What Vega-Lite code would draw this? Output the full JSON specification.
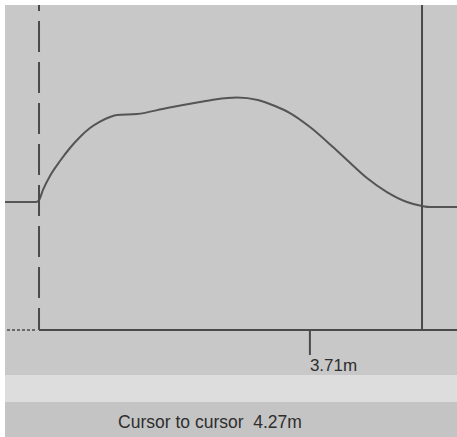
{
  "$schema": "https://vega.github.io/schema/vega-lite/v6.json",
  "width": 457,
  "height": 437,
  "autosize": {"type": "none"},
  "padding": 0,
  "background": "#ffffff",
  "config": {"view": {"stroke": null}},
  "datasets": {
    "panels": [
      {"region": "plot", "x0": 0.311, "x1": 5.35, "y0": -0.502, "y1": 3.623},
      {"region": "band", "x0": 0.311, "x1": 5.35, "y0": -0.803, "y1": -0.502},
      {"region": "status", "x0": 0.311, "x1": 5.35, "y0": -1.193, "y1": -0.803}
    ],
    "profile": [
      {"m": 0.311, "h": 1.427}, {"m": 0.656, "h": 1.427}, {"m": 0.69, "h": 1.449},
      {"m": 0.734, "h": 1.561}, {"m": 0.812, "h": 1.717}, {"m": 0.924, "h": 1.884},
      {"m": 1.035, "h": 2.029}, {"m": 1.147, "h": 2.152}, {"m": 1.258, "h": 2.252},
      {"m": 1.37, "h": 2.324}, {"m": 1.481, "h": 2.375}, {"m": 1.559, "h": 2.397},
      {"m": 1.782, "h": 2.408}, {"m": 2.117, "h": 2.475}, {"m": 2.485, "h": 2.542},
      {"m": 2.652, "h": 2.57}, {"m": 2.897, "h": 2.592}, {"m": 3.131, "h": 2.564},
      {"m": 3.321, "h": 2.497}, {"m": 3.488, "h": 2.419}, {"m": 3.711, "h": 2.263},
      {"m": 3.967, "h": 2.04}, {"m": 4.124, "h": 1.895}, {"m": 4.346, "h": 1.695},
      {"m": 4.569, "h": 1.538}, {"m": 4.792, "h": 1.427}, {"m": 4.96, "h": 1.382},
      {"m": 5.049, "h": 1.371}, {"m": 5.35, "h": 1.371}
    ],
    "cursors": [
      {"cursor": "A", "m": 0.69, "top": 3.623, "bottom": 0},
      {"cursor": "B", "m": 4.96, "top": 3.623, "bottom": 0}
    ]
  },
  "layer": [
    {
      "data": {"name": "panels"},
      "mark": {"type": "rect"},
      "encoding": {
        "x": {"field": "x0", "type": "quantitative", "axis": null, "scale": {"domain": [0.255, 5.35], "nice": false, "zero": false}},
        "x2": {"field": "x1"},
        "y": {"field": "y0", "type": "quantitative", "axis": null, "scale": {"domain": [-1.193, 3.679], "nice": false, "zero": false}},
        "y2": {"field": "y1"},
        "color": {"field": "region", "type": "nominal", "legend": null, "scale": {"domain": ["plot", "band", "status"], "range": ["#c8c8c8", "#dddddd", "#c4c4c4"]}}
      }
    },
    {
      "data": {"name": "profile"},
      "mark": {"type": "line", "interpolate": "monotone", "color": "#555555", "strokeWidth": 2},
      "encoding": {
        "x": {"field": "m", "type": "quantitative"},
        "y": {"field": "h", "type": "quantitative"}
      }
    },
    {
      "data": {"values": [{"m0": 0.69, "m1": 5.35, "h": 0}]},
      "mark": {"type": "rule", "color": "#4a4a4a", "strokeWidth": 2},
      "encoding": {
        "x": {"field": "m0", "type": "quantitative"},
        "x2": {"field": "m1"},
        "y": {"field": "h", "type": "quantitative"}
      }
    },
    {
      "data": {"values": [{"m0": 0.333, "m1": 0.668, "h": 0}]},
      "mark": {"type": "rule", "color": "#6a6a6a", "strokeWidth": 2, "strokeDash": [3, 2]},
      "encoding": {
        "x": {"field": "m0", "type": "quantitative"},
        "x2": {"field": "m1"},
        "y": {"field": "h", "type": "quantitative"}
      }
    },
    {
      "data": {"name": "cursors"},
      "transform": [{"filter": "datum.cursor === 'A'"}],
      "mark": {"type": "rule", "color": "#4a4a4a", "strokeWidth": 2, "strokeDash": [31, 10], "strokeDashOffset": 25},
      "encoding": {
        "x": {"field": "m", "type": "quantitative"},
        "y": {"field": "top", "type": "quantitative"},
        "y2": {"field": "bottom"}
      }
    },
    {
      "data": {"name": "cursors"},
      "transform": [{"filter": "datum.cursor === 'B'"}],
      "mark": {"type": "rule", "color": "#4a4a4a", "strokeWidth": 2},
      "encoding": {
        "x": {"field": "m", "type": "quantitative"},
        "y": {"field": "top", "type": "quantitative"},
        "y2": {"field": "bottom"}
      }
    },
    {
      "data": {"values": [{"m": 3.71, "h0": 0, "h1": -0.279}]},
      "mark": {"type": "rule", "color": "#4a4a4a", "strokeWidth": 2},
      "encoding": {
        "x": {"field": "m", "type": "quantitative"},
        "y": {"field": "h0", "type": "quantitative"},
        "y2": {"field": "h1"}
      }
    },
    {
      "data": {"values": [{"m": 3.71, "h": -0.401, "label": "3.71m"}]},
      "mark": {"type": "text", "align": "left", "baseline": "middle", "font": "Liberation Sans", "fontSize": 17, "color": "#2e2e2e"},
      "encoding": {
        "x": {"field": "m", "type": "quantitative"},
        "y": {"field": "h", "type": "quantitative"},
        "text": {"field": "label"}
      }
    },
    {
      "data": {"values": [{"m": 2.596, "h": -1.037, "label": "Cursor to cursor\u00a0\u00a04.27m"}]},
      "mark": {"type": "text", "align": "center", "baseline": "middle", "font": "Liberation Sans", "fontSize": 17.5, "color": "#2e2e2e"},
      "encoding": {
        "x": {"field": "m", "type": "quantitative"},
        "y": {"field": "h", "type": "quantitative"},
        "text": {"field": "label"}
      }
    }
  ]
}
